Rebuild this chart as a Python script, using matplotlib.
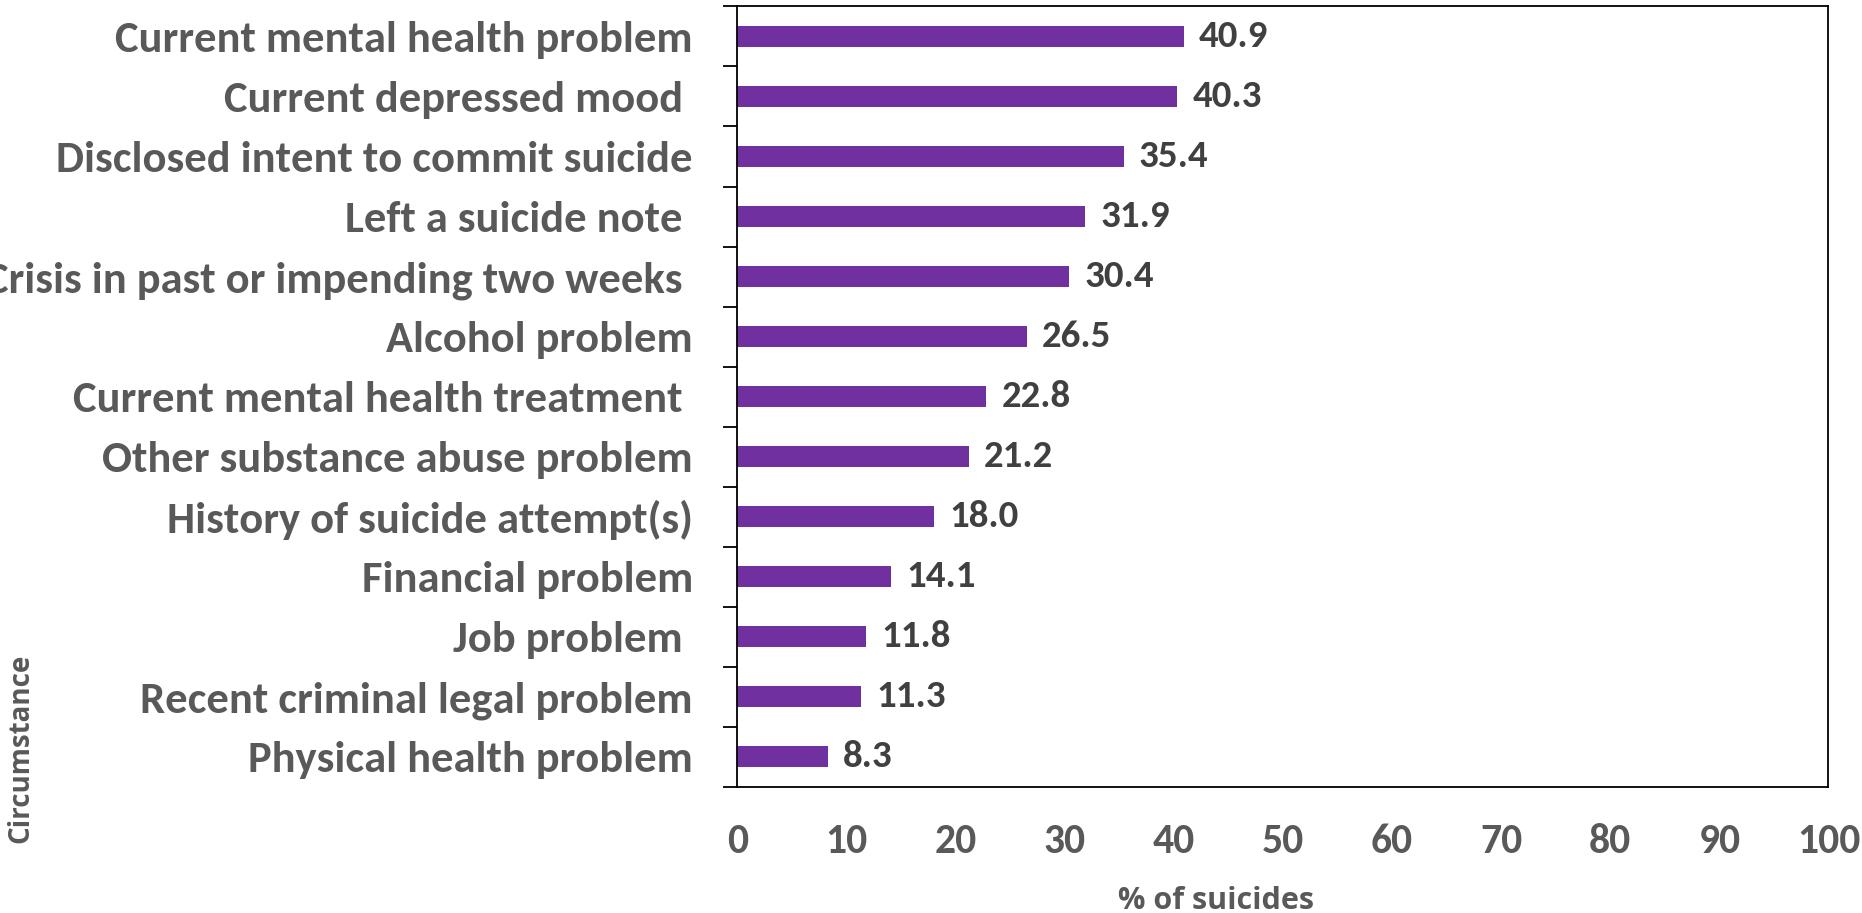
import matplotlib
matplotlib.use('Agg')
import matplotlib.pyplot as plt
import numpy as np

# Data (top to bottom)
circumstances = [
    "Current mental health problem",
    "Current depressed mood ",
    "Disclosed intent to commit suicide",
    "Left a suicide note ",
    "Crisis in past or impending two weeks ",
    "Alcohol problem",
    "Current mental health treatment ",
    "Other substance abuse problem",
    "History of suicide attempt(s)",
    "Financial problem",
    "Job problem ",
    "Recent criminal legal problem",
    "Physical health problem",
]
pct_suicides = [40.9, 40.3, 35.4, 31.9, 30.4, 26.5, 22.8, 21.2, 18.0, 14.1, 11.8, 11.3, 8.3]
x_ticks = [0, 10, 20, 30, 40, 50, 60, 70, 80, 90, 100]

BAR_COLOR = '#7030A0'
GREY = '#595959'
DARK = '#404040'
LABEL_FONT = ['Carlito', 'Liberation Sans Narrow', 'DejaVu Sans']
AXIS_FONT = ['Open Sans', 'DejaVu Sans']

fig = plt.figure(figsize=(18.62, 9.13), dpi=100)
ax = fig.add_axes([0.396, 0.138, 0.586, 0.855])

n = len(circumstances)
y = np.arange(n)[::-1]
ax.barh(y, pct_suicides, height=0.35, color=BAR_COLOR)

ax.set_xlim(0, 100)
ax.set_ylim(-0.5, n - 0.5)

# value labels
for yi, v in zip(y, pct_suicides):
    ax.annotate(f"{v:.1f}", xy=(v, yi), xytext=(11, 0), textcoords='offset points',
                ha='left', va='center', fontsize=28, fontweight='bold',
                color=DARK, family=LABEL_FONT)

# y axis: category labels, tick marks at category boundaries
ax.set_yticks(y)
ax.set_yticklabels(circumstances, fontsize=32, fontweight='bold', color=GREY,
                   family=LABEL_FONT)
ax.tick_params(axis='y', which='major', length=0, pad=32)
ax.set_yticks(np.arange(-0.5, n, 1.0), minor=True)
ax.tick_params(axis='y', which='minor', length=10, width=1.3, direction='out')

# x axis
ax.set_xticks(x_ticks)
ax.set_xticklabels([str(t) for t in x_ticks], fontsize=30, fontweight='bold',
                   color=GREY, family=LABEL_FONT)
ax.tick_params(axis='x', length=0, pad=26)

for spine in ax.spines.values():
    spine.set_color('black')
    spine.set_linewidth(1.3)

fig.text(0.653, 0.013, "% of suicides", ha='center', va='center', fontsize=22,
         fontweight='bold', color=GREY, family=AXIS_FONT)
fig.text(0.011, 0.18, "Circumstance", ha='center', va='center', rotation=90,
         fontsize=20, fontweight='bold', color=GREY, family=AXIS_FONT)

fig.savefig('out.png', dpi=100, facecolor='white')
